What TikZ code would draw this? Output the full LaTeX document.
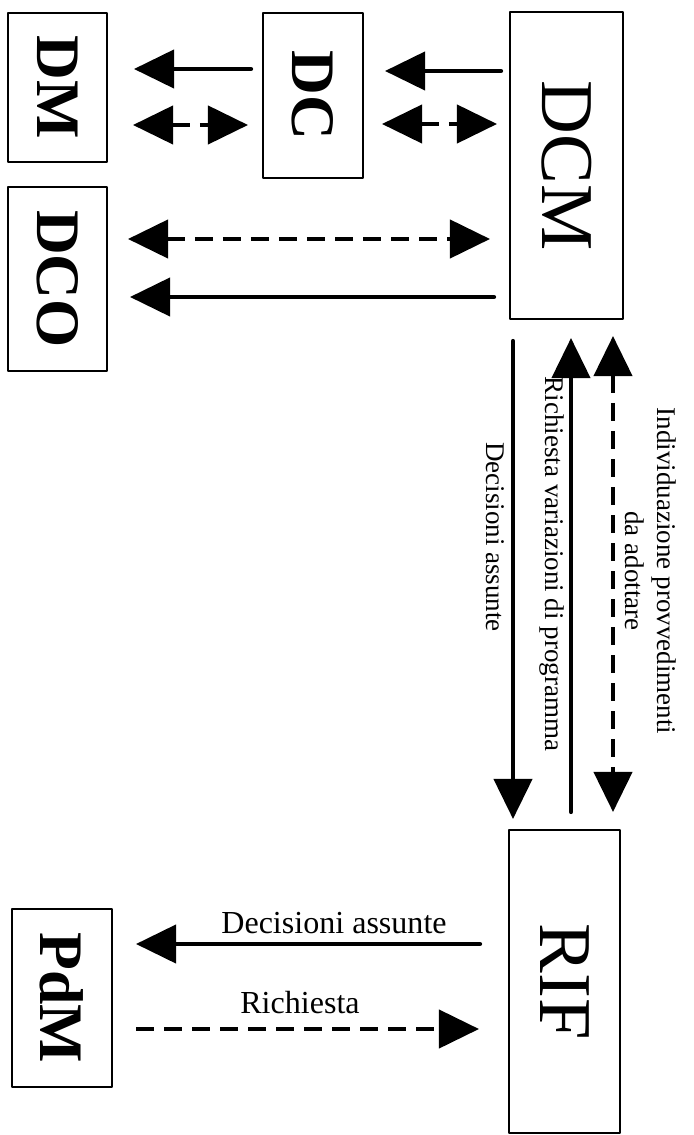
\documentclass[tikz,border=0pt]{standalone}
\usepackage{fontspec}
\setmainfont{Liberation Serif}
\usetikzlibrary{arrows.meta,calc,positioning}

\begin{document}
\begin{tikzpicture}[line cap=round,line join=round,>={Triangle[length=1cm,width=0.95cm]},x=0.025cm,y=-0.025cm,
	box/.style={draw,line width=1.4pt,inner sep=0pt},
	boldlabel/.style={font=\fontsize{44}{48}\selectfont\bfseries},
	biglabel/.style={font=\fontsize{53}{58}\selectfont},
	flow/.style={line width=3pt},
	dashflow/.style={line width=3pt,line cap=butt,dash pattern=on 0.45cm off 0.25cm},
	vtext/.style={rotate=-90,font=\fontsize{19.2}{23}\selectfont,align=center},
	htext/.style={font=\fontsize{22.8}{26}\selectfont}]

\useasboundingbox (0,0) rectangle (694,1135);

\node[box,boldlabel,minimum width=2.475cm,minimum height=3.725cm] (DM) at (57.5,87.5) {\rotatebox{-90}{DM}};
\node[box,boldlabel,minimum width=2.5cm,minimum height=4.125cm] (DC) at (313,95.5) {\rotatebox{-90}{DC}};
\node[box,biglabel,minimum width=2.825cm,minimum height=7.675cm] (DCM) at (566.5,165.5) {\rotatebox{-90}{DCM}};
\node[box,boldlabel,minimum width=2.475cm,minimum height=4.6cm] (DCO) at (57.5,279) {\rotatebox{-90}{DCO}};
\node[box,biglabel,minimum width=2.775cm,minimum height=7.575cm] (RIF) at (564.5,981.5) {\rotatebox{-90}{RIF}};
\node[box,boldlabel,minimum width=2.5cm,minimum height=4.45cm] (PdM) at (62,998) {\rotatebox{-90}{PdM}};

\draw[->,flow,shorten <=0.275cm,shorten >=0.65cm] (DC.west |- 0,69) -- (DM.east |- 0,69);
\draw[->,flow,shorten <=0.2cm,shorten >=0.525cm] (DCM.west |- 0,71) -- (DC.east |- 0,71);
\draw[<->,dashflow,shorten <=0.625cm,shorten >=0.35cm] (DM.east |- 0,125) -- (DC.west |- 0,125);
\draw[<->,dashflow,shorten <=0.45cm,shorten >=0.3cm] (DC.east |- 0,124) -- (DCM.west |- 0,124);
\draw[<->,dashflow,shorten <=0.5cm,shorten >=0.475cm] (DCO.east |- 0,239) -- (DCM.west |- 0,239);
\draw[->,flow,shorten <=0.375cm,shorten >=0.55cm] (DCM.west |- 0,297) -- (DCO.east |- 0,297);

\draw[->,flow,shorten <=0.525cm,shorten >=0.25cm] (DCM.south -| 513,0) -- (RIF.north -| 513,0);
\draw[->,flow,shorten <=0.425cm,shorten >=0.45cm] (RIF.north -| 571,0) -- (DCM.south -| 571,0);
\draw[<->,dashflow,shorten <=0.4cm,shorten >=0.425cm] (DCM.south -| 613,0) -- (RIF.north -| 613,0);

\draw[->,flow,shorten <=0.7cm,shorten >=0.575cm] (RIF.west |- 0,944) -- (PdM.east |- 0,944);
\draw[->,dashflow,shorten <=0.575cm,shorten >=0.725cm] (PdM.east |- 0,1029) -- (RIF.west |- 0,1029);

\node[vtext] (lblDecisioni) at (495,537) {Decisioni assunte};
\node[vtext] (lblRichiesta) at (552,564) {Richiesta variazioni di programma};
\node[vtext] (lblProvvedimenti) at (651,571) {Individuazione provvedimenti\\da adottare};
\node[htext] (lblDecisioniPdM) at (334,923) {Decisioni assunte};
\node[htext] (lblRichiestaPdM) at (300,1003) {Richiesta};
\end{tikzpicture}
\end{document}
